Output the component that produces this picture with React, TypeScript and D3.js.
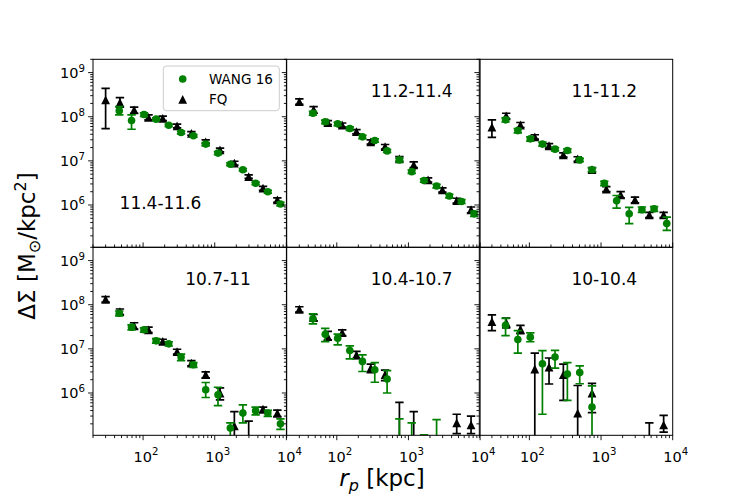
import React from "react";
import * as d3 from "d3";

// radial bins (kpc)
const wangR = [46.5, 69, 103, 152, 228, 339, 504, 748, 1110, 1650, 2470, 3720, 5500, 8260];
const fqR = [30, 47.5, 75, 119, 188, 298, 472, 748, 1185, 1878, 2976, 4717, 7476];

const panelLabels = ["11.4-11.6", "11.2-11.4", "11-11.2", "10.7-11", "10.4-10.7", "10-10.4"];

type V = number | null;

// WANG 16 (green circles), one row per panel
const wangVal: V[][] = [
  [1.37e8, 8.2e7, 1.12e8, 8.8e7, 6.4e7, 4.4e7, 3.7e7, 2.4e7, 1.5e7, 8.4e6, 6.3e6, 3.1e6, 2.0e6, 1.05e6],
  [1.2e8, 7.7e7, 6.9e7, 5.4e7, 3.5e7, 2.9e7, 1.68e7, 1.05e7, 5.7e6, 3.6e6, 2.7e6, 1.6e6, 1.2e6, 6.3e5],
  [8.5e7, 4.85e7, 3.15e7, 2.4e7, 1.84e7, 1.71e7, 1.05e7, 6.3e6, 3.1e6, 1.24e6, 6.3e5, 7.8e5, 8.2e5, 3.8e5],
  [6.4e7, 3.1e7, 2.7e7, 1.52e7, 1.3e7, 6.5e6, 4.35e6, 1.18e6, 9.1e5, 1.6e5, 3.5e5, 3.95e5, 3.5e5, 2.0e5],
  [4.8e7, 2.15e7, 1.75e7, 9.2e6, 5.2e6, 3.35e6, 2.07e6, 5e4, 5e4, 5e4, 5e4, null, null, null],
  [3.4e7, 1.62e7, 1.84e7, 4.6e6, 6.5e6, 2.7e6, 2.9e6, 4.8e5, null, null, null, null, null, null],
];
const wangLo: V[][] = [
  [1.1e8, 5.2e7, 1.02e8, 8.2e7, 6.0e7, 4.1e7, 3.45e7, 2.2e7, 1.38e7, 7.8e6, 5.9e6, 2.9e6, 1.85e6, 9.5e5],
  [1.08e8, 7.0e7, 6.3e7, 4.9e7, 3.2e7, 2.65e7, 1.55e7, 9.6e6, 5.2e6, 3.3e6, 2.45e6, 1.45e6, 1.08e6, 5.5e5],
  [7.6e7, 4.3e7, 2.8e7, 2.15e7, 1.68e7, 1.56e7, 9.6e6, 5.7e6, 2.75e6, 8.5e5, 3.8e5, 6.8e5, 7.2e5, 2.65e5],
  [5.6e7, 2.7e7, 2.4e7, 1.35e7, 1.16e7, 5.4e6, 3.8e6, 7.9e5, 5.2e5, 1e4, 2.1e5, 3.2e5, 2.95e5, 1.5e5],
  [3.7e7, 1.46e7, 1.23e7, 5.9e6, 3.07e6, 1.75e6, 1.0e6, 1e4, 1e4, 1e4, 1e4, null, null, null],
  [2.0e7, 8.0e6, 1.45e7, 3.3e5, 3.65e6, 6.8e5, 1.62e6, 1e4, null, null, null, null, null, null],
];
const wangHi: V[][] = [
  [1.7e8, 1.1e8, 1.22e8, 9.4e7, 6.8e7, 4.7e7, 3.95e7, 2.6e7, 1.62e7, 9.0e6, 6.7e6, 3.3e6, 2.15e6, 1.15e6],
  [1.32e8, 8.4e7, 7.5e7, 5.9e7, 3.8e7, 3.15e7, 1.81e7, 1.14e7, 6.2e6, 3.9e6, 2.95e6, 1.75e6, 1.32e6, 7.2e5],
  [9.4e7, 5.4e7, 3.5e7, 2.65e7, 2.0e7, 1.86e7, 1.14e7, 6.9e6, 3.45e6, 1.64e6, 8.8e5, 9.0e5, 9.2e5, 5.3e5],
  [7.2e7, 3.5e7, 3.0e7, 1.7e7, 1.45e7, 7.6e6, 4.9e6, 1.73e6, 1.35e6, 2.1e5, 5.4e5, 4.8e5, 4.05e5, 2.6e5],
  [6.2e7, 2.9e7, 2.15e7, 1.17e7, 7.3e6, 4.9e6, 3.2e6, 2.6e5, 2.1e5, 1.13e5, 2.5e5, null, null, null],
  [4.9e7, 2.6e7, 2.3e7, 9.1e6, 9.2e6, 4.9e6, 4.1e6, 1.45e6, null, null, null, null, null, null],
];

// FQ (black triangles)
const fqVal: V[][] = [
  [2.4e8, 2.1e8, 1.43e8, 9.7e7, 9.2e7, 6.2e7, 4.2e7, 2.7e7, 1.77e7, 8.9e6, 4.4e6, 2.4e6, 1.31e6],
  [2.2e8, 1.45e8, 7.4e7, 6.5e7, 4.6e7, 2.7e7, 2.1e7, 1.11e7, 8.1e6, 3.7e6, 2.2e6, 1.26e6, 7.8e5],
  [5.8e7, 1.04e8, 6.5e7, 3.5e7, 2.2e7, 1.37e7, 1.11e7, 6.3e6, 2.3e6, 1.7e6, 1.31e6, 6.0e5, 6.0e5],
  [1.33e8, 7.0e7, 3.3e7, 2.7e7, 1.47e7, 8.7e6, 4.75e6, 2.6e6, 1.0e6, 1.8e5, 9e4, 4.3e5, 3.5e5],
  [7.9e7, 5.2e7, 1.9e7, 2.34e7, 7.3e6, 3.65e6, 2.6e6, 9e4, 8e4, null, null, 2.1e5, 1.9e5],
  [4.15e7, 3.9e7, 2.8e7, 3.5e6, 3.85e6, 2.6e6, 3.5e5, 1.0e6, null, null, null, 5e4, 1.9e5],
];
const fqLo: V[][] = [
  [5.4e7, 1.65e8, 1.2e8, 8.5e7, 8.2e7, 5.6e7, 3.8e7, 2.45e7, 1.6e7, 8.0e6, 4.0e6, 2.15e6, 1.15e6],
  [1.9e8, 1.2e8, 6.6e7, 5.8e7, 4.1e7, 2.4e7, 1.85e7, 9.8e6, 7.0e6, 3.3e6, 1.95e6, 1.1e6, 6.6e5],
  [3.4e7, 9.0e7, 5.7e7, 3.1e7, 1.95e7, 1.22e7, 9.8e6, 5.6e6, 2.0e6, 1.45e6, 1.12e6, 5.2e5, 5.2e5],
  [1.15e8, 6.0e7, 2.8e7, 2.35e7, 1.3e7, 7.6e6, 4.1e6, 2.2e6, 7.0e5, 1e4, 1e4, 3.6e5, 2.9e5],
  [6.8e7, 4.3e7, 1.6e7, 2.0e7, 6.0e6, 2.9e6, 1.9e6, 1e4, 1e4, null, null, 1.2e5, 1.2e5],
  [2.6e7, 3.0e7, 2.2e7, 1e4, 1.6e6, 6.8e5, 1e4, 3.6e5, null, null, null, 1e4, 1.3e5],
];
const fqHi: V[][] = [
  [4.4e8, 2.7e8, 1.65e8, 1.1e8, 1.03e8, 6.8e7, 4.6e7, 3.0e7, 1.95e7, 9.8e6, 4.8e6, 2.65e6, 1.45e6],
  [2.55e8, 1.7e8, 8.2e7, 7.2e7, 5.1e7, 3.0e7, 2.35e7, 1.25e7, 9.5e6, 4.1e6, 2.45e6, 1.42e6, 9.0e5],
  [8.5e7, 1.2e8, 7.4e7, 3.9e7, 2.45e7, 1.52e7, 1.24e7, 7.0e6, 2.6e6, 2.0e6, 1.5e6, 6.8e5, 6.8e5],
  [1.52e8, 8.0e7, 3.9e7, 3.1e7, 1.65e7, 9.8e6, 5.4e6, 3.0e6, 1.3e6, 3.8e5, 2.3e5, 4.8e5, 4.1e5],
  [9.0e7, 6.0e7, 2.5e7, 2.7e7, 8.8e6, 4.5e6, 3.3e6, 6.1e5, 3.8e5, null, null, 3.3e5, 3.0e5],
  [5.9e7, 5.0e7, 3.4e7, 8.0e6, 6.2e6, 4.5e6, 1.48e6, 1.66e6, null, null, null, 2.1e5, 3.1e5],
];

const xMajor = [1e2, 1e3, 1e4];
const yMajor = [1e6, 1e7, 1e8, 1e9];

const W = 747;
const H = 498;
const colX = [93, 286.7, 479.3];
const rowY = [59.3, 247.3];
const pw = 193.4;
const ph = 188;
const GREEN = "#008000";
const FONT = "DejaVu Sans, Verdana, sans-serif";

const minorTicks = (lo: number, hi: number) => {
  const out: number[] = [];
  for (let e = Math.floor(Math.log10(lo)); e <= Math.ceil(Math.log10(hi)); e++) {
    for (let m = 2; m <= 9; m++) {
      const v = m * Math.pow(10, e);
      if (v >= lo && v <= hi) out.push(v);
    }
  }
  return out;
};

const Pow = ({ x, y, exp, anchor }: { x: number; y: number; exp: number; anchor: string }) => (
  <text x={x} y={y} textAnchor={anchor} fontSize={14.5} fontFamily={FONT} fill="#000">
    10<tspan dy={-6.5} fontSize={10.2}>{exp}</tspan>
  </text>
);

const Triangle = ({ x, y, s, fill }: { x: number; y: number; s: number; fill: string }) => (
  <path d={`M${x},${y - s}L${x - s},${y + s}L${x + s},${y + s}Z`} fill={fill} />
);

function ErrBar({ x, lo, hi, color }: { x: number; lo: number; hi: number; color: string }) {
  return (
    <g stroke={color} strokeWidth={1.7}>
      <line x1={x} x2={x} y1={lo} y2={hi} />
      <line x1={x - 4.2} x2={x + 4.2} y1={lo} y2={lo} />
      <line x1={x - 4.2} x2={x + 4.2} y1={hi} y2={hi} />
    </g>
  );
}

function Panel({ idx }: { idx: number }) {
  const col = idx % 3;
  const row = Math.floor(idx / 3);
  const left = colX[col];
  const top = rowY[row];
  const x = d3.scaleLog().domain([20, 1e4]).range([left, left + pw]);
  const y = d3.scaleLog().domain([1.1e5, 2e9]).range([top + ph, top]);
  const clipId = `clip${idx}`;
  const bottom = top + ph;
  const xDir = row === 0 ? -1 : 1;
  const lab = idx === 0 ? { dx: 67.5, dy: 150 } : { dx: 125, dy: 38 };

  return (
    <g>
      <defs>
        <clipPath id={clipId}>
          <rect x={left} y={top} width={pw} height={ph} />
        </clipPath>
      </defs>
      {/* ticks: y outward (left), x up in top row, down in bottom row */}
      <g stroke="#000" strokeWidth={0.9}>
        {yMajor.map((v) => (
          <line key={v} x1={left - 4.9} x2={left} y1={y(v)} y2={y(v)} />
        ))}
        {minorTicks(1.1e5, 2e9).map((v) => (
          <line key={v} x1={left - 2.8} x2={left} y1={y(v)} y2={y(v)} />
        ))}
        {xMajor.map((v) => (
          <line key={v} x1={x(v)} x2={x(v)} y1={bottom} y2={bottom + xDir * 4.9} />
        ))}
        {minorTicks(20, 1e4).map((v) => (
          <line key={v} x1={x(v)} x2={x(v)} y1={bottom} y2={bottom + xDir * 2.8} />
        ))}
      </g>
      {col === 0 &&
        yMajor.map((v) => <Pow key={v} x={left - 8} y={y(v) + 5.5} exp={Math.log10(v)} anchor="end" />)}
      {row === 1 &&
        xMajor.map((v) => <Pow key={v} x={x(v) + 3} y={bottom + 26.2} exp={Math.log10(v)} anchor="middle" />)}

      <g clipPath={`url(#${clipId})`}>
        {fqR.map((r, i) => {
          const v = fqVal[idx][i];
          const lo = fqLo[idx][i];
          const hi = fqHi[idx][i];
          if (v === null) return null;
          return (
            <g key={"f" + i}>
              {lo !== null && hi !== null && <ErrBar x={x(r)} lo={y(lo)} hi={y(hi)} color="#000" />}
              <Triangle x={x(r)} y={y(v)} s={4.4} fill="#000" />
            </g>
          );
        })}
        {wangR.map((r, i) => {
          const v = wangVal[idx][i];
          const lo = wangLo[idx][i];
          const hi = wangHi[idx][i];
          if (v === null) return null;
          return (
            <g key={"w" + i}>
              {lo !== null && hi !== null && <ErrBar x={x(r)} lo={y(lo)} hi={y(hi)} color={GREEN} />}
              <circle cx={x(r)} cy={y(v)} r={3.8} fill={GREEN} />
            </g>
          );
        })}
      </g>

      <text x={left + lab.dx} y={top + lab.dy} textAnchor="middle" fontSize={17} fontFamily={FONT}>
        {panelLabels[idx]}
      </text>
      <rect x={left} y={top} width={pw} height={ph} fill="none" stroke="#000" strokeWidth={1} />
    </g>
  );
}

export default function App() {
  return (
    <svg
      width={W}
      height={H}
      viewBox={`0 0 ${W} ${H}`}
      style={{ position: "absolute", left: 0, top: 0, background: "#fff" }}
    >
      <rect width={W} height={H} fill="#fff" />
      {d3.range(6).map((i) => (
        <Panel key={i} idx={i} />
      ))}

      {/* legend */}
      <g>
        <rect x={163.3} y={66} width={116} height={44.7} rx={3} fill="#fff" fillOpacity={0.8} stroke="#cccccc" strokeWidth={1} />
        <circle cx={182.7} cy={79} r={3.8} fill={GREEN} />
        <text x={209} y={84} fontSize={13.5} fontFamily={FONT}>WANG 16</text>
        <Triangle x={182.7} y={99.3} s={4.4} fill="#000" />
        <text x={209} y={104.3} fontSize={13.5} fontFamily={FONT}>FQ</text>
      </g>

      {/* axis labels */}
      <text
        transform="translate(35,246) rotate(-90)"
        textAnchor="middle"
        fontSize={23}
        fontFamily={FONT}
      >
        ΔΣ [M<tspan dy={4.5} fontSize={16}>⊙</tspan>
        <tspan dy={-4.5}>/kpc</tspan>
        <tspan dy={-9} fontSize={16}>2</tspan>
        <tspan dy={9}>]</tspan>
      </text>
      <text x={382} y={486} textAnchor="middle" fontSize={23} fontFamily={FONT}>
        <tspan fontStyle="italic">r</tspan>
        <tspan dy={4.5} fontSize={16} fontStyle="italic">p</tspan>
        <tspan dy={-4.5}> [kpc]</tspan>
      </text>
    </svg>
  );
}
